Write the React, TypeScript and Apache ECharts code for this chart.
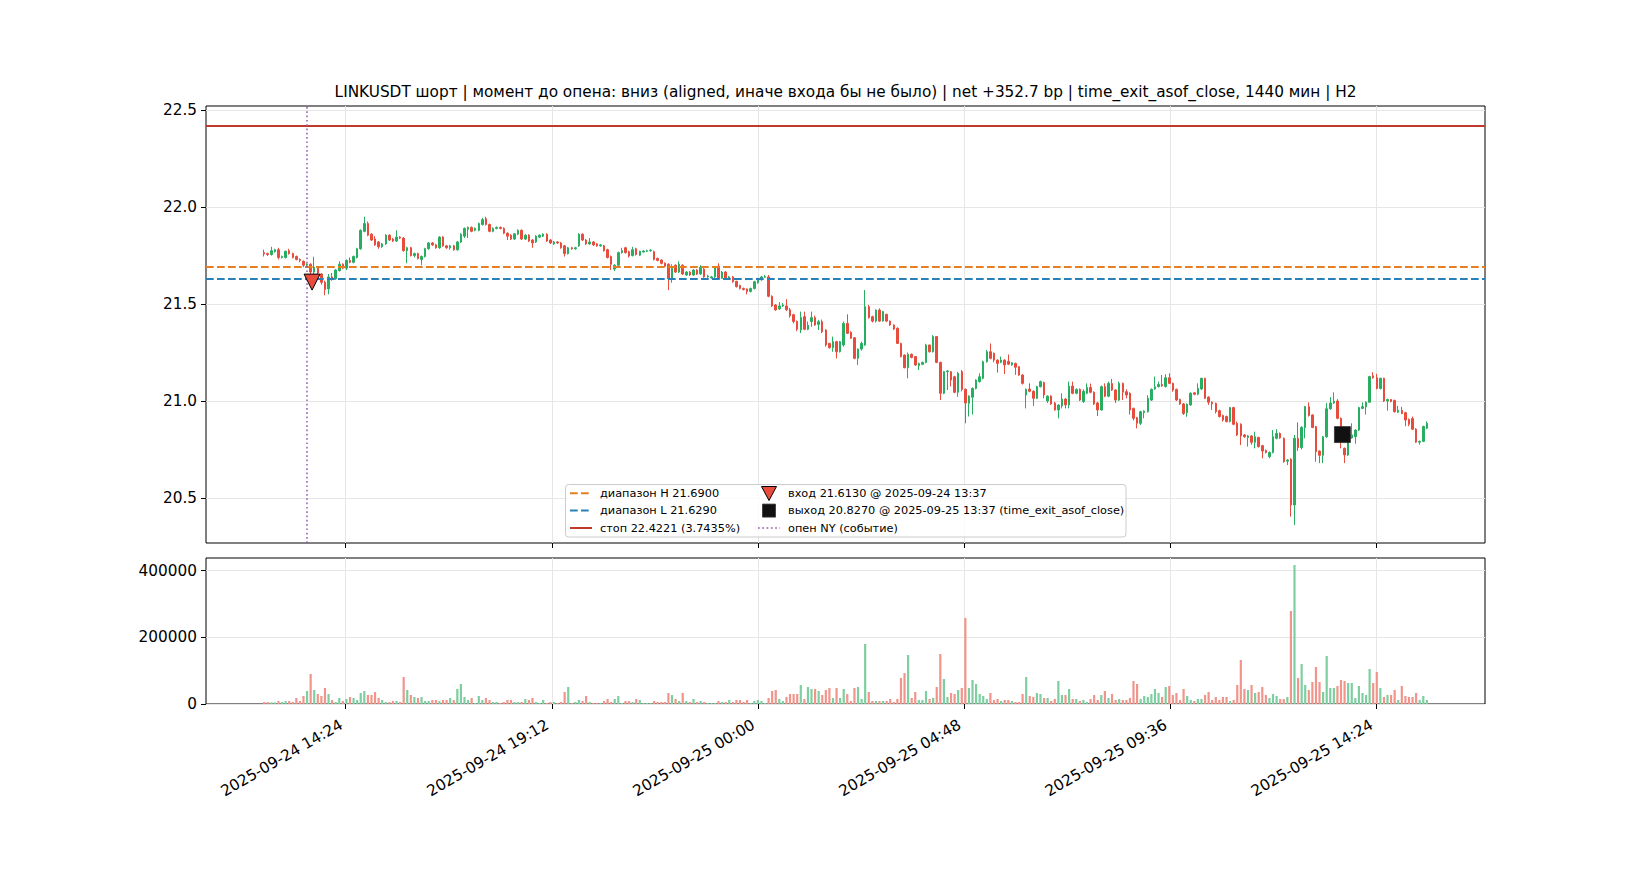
import { useEffect, useRef } from "react";
import * as echarts from "echarts";

const FONT = "DejaVu Sans";

// time axis in minutes since 2025-09-24 00:00, one candle every 5 minutes
const firstCandleMin = 750; // 2025-09-24 12:30
const candleStepMin = 5;

// [open, close, low, high]
const candles: [number, number, number, number][] = [
  [21.765, 21.758, 21.745, 21.78], [21.76, 21.755, 21.748, 21.765], [21.755, 21.775, 21.75, 21.795], [21.77, 21.78, 21.765, 21.785],
  [21.78, 21.74, 21.73, 21.79], [21.74, 21.745, 21.735, 21.75], [21.74, 21.772, 21.735, 21.775], [21.775, 21.76, 21.755, 21.785],
  [21.76, 21.74, 21.735, 21.765], [21.745, 21.73, 21.725, 21.75], [21.73, 21.725, 21.715, 21.735], [21.72, 21.7, 21.69, 21.725],
  [21.7, 21.705, 21.695, 21.71], [21.705, 21.665, 21.645, 21.71], [21.665, 21.69, 21.655, 21.744], [21.69, 21.66, 21.65, 21.695],
  [21.655, 21.612, 21.6, 21.66], [21.612, 21.575, 21.545, 21.62], [21.578, 21.64, 21.55, 21.655], [21.64, 21.63, 21.62, 21.66],
  [21.63, 21.675, 21.625, 21.68], [21.672, 21.705, 21.668, 21.72], [21.705, 21.685, 21.68, 21.71], [21.685, 21.725, 21.675, 21.73],
  [21.725, 21.715, 21.71, 21.74], [21.715, 21.745, 21.71, 21.75], [21.74, 21.785, 21.735, 21.79], [21.785, 21.88, 21.78, 21.885],
  [21.875, 21.915, 21.87, 21.95], [21.915, 21.855, 21.85, 21.925], [21.86, 21.83, 21.825, 21.865], [21.835, 21.805, 21.8, 21.85],
  [21.82, 21.795, 21.785, 21.825], [21.795, 21.81, 21.79, 21.815], [21.81, 21.855, 21.805, 21.86], [21.855, 21.83, 21.825, 21.86],
  [21.835, 21.825, 21.82, 21.84], [21.825, 21.845, 21.82, 21.88], [21.845, 21.84, 21.835, 21.85], [21.84, 21.775, 21.77, 21.845],
  [21.775, 21.79, 21.71, 21.795], [21.79, 21.75, 21.745, 21.795], [21.75, 21.76, 21.74, 21.765], [21.76, 21.735, 21.73, 21.765],
  [21.73, 21.745, 21.7, 21.75], [21.745, 21.785, 21.74, 21.79], [21.785, 21.815, 21.78, 21.82], [21.815, 21.805, 21.8, 21.82],
  [21.805, 21.79, 21.785, 21.81], [21.79, 21.845, 21.785, 21.85], [21.845, 21.8, 21.795, 21.85], [21.8, 21.79, 21.785, 21.805],
  [21.79, 21.8, 21.78, 21.805], [21.8, 21.78, 21.775, 21.805], [21.78, 21.82, 21.775, 21.825], [21.82, 21.86, 21.815, 21.865],
  [21.85, 21.89, 21.84, 21.895], [21.885, 21.895, 21.84, 21.9], [21.895, 21.875, 21.87, 21.9], [21.88, 21.89, 21.875, 21.895],
  [21.88, 21.915, 21.875, 21.92], [21.91, 21.935, 21.905, 21.945], [21.94, 21.91, 21.905, 21.95], [21.91, 21.875, 21.87, 21.915],
  [21.875, 21.89, 21.87, 21.895], [21.89, 21.895, 21.885, 21.9], [21.895, 21.89, 21.885, 21.9], [21.89, 21.865, 21.86, 21.895],
  [21.865, 21.85, 21.83, 21.87], [21.855, 21.835, 21.83, 21.86], [21.835, 21.862, 21.83, 21.865], [21.86, 21.88, 21.855, 21.885],
  [21.88, 21.835, 21.83, 21.885], [21.835, 21.855, 21.83, 21.86], [21.855, 21.825, 21.82, 21.86], [21.83, 21.815, 21.79, 21.835],
  [21.82, 21.85, 21.815, 21.855], [21.845, 21.855, 21.84, 21.86], [21.85, 21.86, 21.845, 21.865], [21.86, 21.825, 21.82, 21.865],
  [21.83, 21.815, 21.81, 21.835], [21.81, 21.82, 21.805, 21.825], [21.82, 21.815, 21.81, 21.825], [21.815, 21.79, 21.785, 21.82],
  [21.8, 21.76, 21.745, 21.805], [21.76, 21.79, 21.755, 21.795], [21.79, 21.785, 21.78, 21.795], [21.785, 21.79, 21.78, 21.795],
  [21.8, 21.86, 21.795, 21.865], [21.86, 21.83, 21.825, 21.865], [21.83, 21.81, 21.805, 21.835], [21.81, 21.82, 21.805, 21.84],
  [21.82, 21.805, 21.8, 21.825], [21.81, 21.8, 21.795, 21.815], [21.8, 21.805, 21.795, 21.81], [21.8, 21.775, 21.77, 21.805],
  [21.78, 21.74, 21.735, 21.785], [21.745, 21.705, 21.675, 21.75], [21.68, 21.7, 21.67, 21.705], [21.7, 21.765, 21.695, 21.77],
  [21.765, 21.775, 21.76, 21.79], [21.79, 21.765, 21.76, 21.795], [21.77, 21.748, 21.74, 21.775], [21.75, 21.78, 21.745, 21.795],
  [21.785, 21.755, 21.75, 21.79], [21.752, 21.772, 21.748, 21.775], [21.768, 21.773, 21.765, 21.778], [21.772, 21.775, 21.768, 21.78],
  [21.775, 21.778, 21.77, 21.782], [21.77, 21.73, 21.725, 21.775], [21.735, 21.725, 21.72, 21.74], [21.727, 21.71, 21.705, 21.73],
  [21.71, 21.695, 21.69, 21.715], [21.705, 21.63, 21.572, 21.71], [21.63, 21.685, 21.61, 21.705], [21.7, 21.665, 21.66, 21.705],
  [21.665, 21.705, 21.66, 21.72], [21.7, 21.655, 21.65, 21.705], [21.65, 21.665, 21.645, 21.67], [21.665, 21.65, 21.645, 21.67],
  [21.65, 21.675, 21.645, 21.68], [21.675, 21.655, 21.65, 21.68], [21.655, 21.69, 21.65, 21.7], [21.68, 21.64, 21.635, 21.685],
  [21.64, 21.645, 21.635, 21.65], [21.635, 21.64, 21.63, 21.645], [21.64, 21.69, 21.635, 21.695], [21.695, 21.63, 21.625, 21.71],
  [21.633, 21.665, 21.63, 21.67], [21.665, 21.63, 21.625, 21.67], [21.63, 21.64, 21.625, 21.645], [21.64, 21.615, 21.61, 21.645],
  [21.617, 21.59, 21.585, 21.62], [21.595, 21.58, 21.575, 21.6], [21.58, 21.575, 21.57, 21.585], [21.578, 21.565, 21.55, 21.58],
  [21.565, 21.58, 21.56, 21.585], [21.58, 21.615, 21.575, 21.62], [21.61, 21.632, 21.605, 21.635], [21.625, 21.64, 21.62, 21.645],
  [21.638, 21.641, 21.635, 21.65], [21.64, 21.54, 21.535, 21.65], [21.54, 21.49, 21.485, 21.545], [21.495, 21.47, 21.465, 21.5],
  [21.475, 21.49, 21.47, 21.51], [21.49, 21.495, 21.485, 21.505], [21.49, 21.47, 21.465, 21.525], [21.47, 21.44, 21.43, 21.48],
  [21.445, 21.41, 21.4, 21.45], [21.41, 21.37, 21.36, 21.415], [21.366, 21.43, 21.35, 21.461], [21.435, 21.37, 21.365, 21.461],
  [21.37, 21.39, 21.365, 21.41], [21.41, 21.43, 21.383, 21.461], [21.43, 21.392, 21.388, 21.44], [21.395, 21.409, 21.366, 21.418],
  [21.409, 21.357, 21.35, 21.42], [21.366, 21.289, 21.28, 21.37], [21.297, 21.275, 21.27, 21.3], [21.275, 21.306, 21.254, 21.332],
  [21.306, 21.254, 21.22, 21.31], [21.254, 21.306, 21.25, 21.31], [21.289, 21.4, 21.28, 21.41], [21.4, 21.349, 21.345, 21.447],
  [21.354, 21.323, 21.32, 21.36], [21.326, 21.22, 21.215, 21.33], [21.22, 21.268, 21.186, 21.27], [21.268, 21.297, 21.26, 21.306],
  [21.289, 21.486, 21.285, 21.572], [21.486, 21.43, 21.425, 21.495], [21.435, 21.412, 21.405, 21.44], [21.412, 21.469, 21.405, 21.472],
  [21.469, 21.412, 21.408, 21.478], [21.412, 21.461, 21.41, 21.465], [21.447, 21.412, 21.408, 21.45], [21.412, 21.392, 21.388, 21.415],
  [21.392, 21.371, 21.366, 21.395], [21.375, 21.297, 21.295, 21.38], [21.297, 21.229, 21.225, 21.3], [21.237, 21.172, 21.168, 21.24],
  [21.172, 21.241, 21.117, 21.25], [21.241, 21.225, 21.22, 21.245], [21.229, 21.186, 21.18, 21.232], [21.182, 21.194, 21.16, 21.198],
  [21.189, 21.199, 21.185, 21.203], [21.199, 21.289, 21.195, 21.295], [21.289, 21.254, 21.25, 21.29], [21.254, 21.332, 21.25, 21.34],
  [21.332, 21.199, 21.195, 21.335], [21.199, 21.04, 21.005, 21.203], [21.04, 21.151, 21.035, 21.155], [21.151, 21.155, 21.057, 21.16],
  [21.151, 21.108, 21.075, 21.155], [21.125, 21.045, 21.04, 21.13], [21.045, 21.143, 21.022, 21.15], [21.151, 21.06, 21.05, 21.16],
  [21.06, 20.99, 20.885, 21.065], [20.988, 21.025, 20.92, 21.03], [21.02, 21.065, 20.93, 21.07], [21.065, 21.108, 21.06, 21.112],
  [21.1, 21.125, 21.095, 21.143], [21.117, 21.203, 21.112, 21.208], [21.203, 21.254, 21.198, 21.263], [21.254, 21.22, 21.215, 21.297],
  [21.246, 21.211, 21.2, 21.25], [21.211, 21.194, 21.147, 21.215], [21.2, 21.211, 21.195, 21.229], [21.211, 21.186, 21.139, 21.215],
  [21.205, 21.19, 21.185, 21.24], [21.186, 21.197, 21.182, 21.2], [21.194, 21.174, 21.135, 21.198], [21.177, 21.134, 21.13, 21.18],
  [21.134, 21.091, 21.085, 21.138], [21.031, 21.06, 20.962, 21.065], [21.062, 21.05, 21.045, 21.091], [21.05, 21.014, 20.975, 21.055],
  [21.014, 21.074, 21.01, 21.078], [21.074, 21.1, 21.07, 21.105], [21.095, 21.031, 21.014, 21.1], [21.0, 21.025, 20.99, 21.03],
  [21.025, 20.985, 20.98, 21.03], [20.99, 20.954, 20.95, 20.995], [20.954, 20.979, 20.911, 20.983], [20.975, 21.01, 20.962, 21.04],
  [21.01, 20.98, 20.962, 21.015], [20.98, 21.077, 20.962, 21.1], [21.077, 21.04, 21.035, 21.1], [21.04, 21.06, 21.035, 21.065],
  [21.06, 21.005, 21.0, 21.065], [20.997, 21.05, 20.99, 21.06], [21.04, 21.07, 21.035, 21.091], [21.07, 21.045, 21.04, 21.09],
  [21.045, 20.985, 20.98, 21.05], [20.99, 20.954, 20.923, 20.995], [20.954, 21.074, 20.95, 21.08], [21.074, 21.025, 21.02, 21.091],
  [21.025, 21.091, 21.02, 21.1], [21.09, 21.057, 21.052, 21.114], [21.057, 21.005, 20.99, 21.06], [21.005, 21.091, 21.0, 21.1],
  [21.091, 21.045, 21.005, 21.095], [21.048, 21.031, 21.014, 21.06], [21.04, 20.954, 20.93, 21.045], [20.962, 20.911, 20.9, 20.966],
  [20.914, 20.885, 20.859, 20.918], [20.885, 20.945, 20.876, 20.95], [20.94, 20.948, 20.911, 20.952], [20.945, 21.014, 20.94, 21.03],
  [21.005, 21.06, 21.0, 21.065], [21.062, 21.074, 21.058, 21.126], [21.074, 21.085, 21.07, 21.1], [21.085, 21.078, 21.073, 21.134],
  [21.075, 21.12, 21.07, 21.138], [21.12, 21.091, 21.087, 21.143], [21.091, 21.057, 21.048, 21.095], [21.06, 21.005, 21.0, 21.064],
  [21.008, 20.985, 20.98, 21.012], [20.985, 20.936, 20.928, 20.99], [20.94, 20.983, 20.919, 20.988], [20.98, 21.04, 20.975, 21.045],
  [21.042, 21.035, 21.03, 21.045], [21.035, 21.065, 21.03, 21.091], [21.062, 21.117, 21.058, 21.12], [21.117, 21.014, 21.01, 21.12],
  [21.02, 20.994, 20.98, 21.025], [20.994, 20.985, 20.954, 20.998], [20.988, 20.945, 20.936, 20.992], [20.95, 20.92, 20.915, 20.955],
  [20.925, 20.902, 20.894, 20.93], [20.92, 20.894, 20.89, 20.925], [20.894, 20.966, 20.89, 20.97], [20.966, 20.88, 20.875, 20.97],
  [20.885, 20.825, 20.82, 20.894], [20.88, 20.82, 20.773, 20.885], [20.825, 20.816, 20.81, 20.83], [20.812, 20.82, 20.765, 20.825],
  [20.82, 20.787, 20.775, 20.824], [20.787, 20.816, 20.756, 20.842], [20.812, 20.765, 20.76, 20.816], [20.77, 20.742, 20.705, 20.774],
  [20.745, 20.735, 20.73, 20.75], [20.713, 20.735, 20.705, 20.74], [20.735, 20.816, 20.73, 20.85], [20.808, 20.833, 20.803, 20.855],
  [20.833, 20.81, 20.805, 20.838], [20.808, 20.687, 20.682, 20.812], [20.69, 20.696, 20.67, 20.7], [20.7, 20.464, 20.404, 20.705],
  [20.464, 20.808, 20.361, 20.825], [20.808, 20.76, 20.743, 20.89], [20.76, 20.864, 20.75, 20.87], [20.864, 20.971, 20.808, 20.975],
  [20.971, 20.925, 20.92, 20.993], [20.928, 20.864, 20.86, 20.932], [20.868, 20.739, 20.687, 20.872], [20.742, 20.72, 20.68, 20.746],
  [20.72, 20.816, 20.68, 20.82], [20.816, 20.96, 20.81, 20.99], [20.96, 20.99, 20.955, 21.02], [20.99, 20.999, 20.985, 21.045],
  [21.0, 20.911, 20.906, 21.01], [20.911, 20.8, 20.756, 20.915], [20.756, 20.722, 20.68, 20.76], [20.722, 20.82, 20.717, 20.83],
  [20.81, 20.825, 20.805, 20.885], [20.816, 20.85, 20.78, 20.855], [20.85, 20.966, 20.845, 20.97], [20.962, 20.971, 20.958, 20.993],
  [20.97, 20.994, 20.93, 20.998], [20.994, 21.126, 20.99, 21.13], [21.13, 21.12, 21.115, 21.148], [21.12, 21.065, 21.06, 21.14],
  [21.065, 21.117, 21.06, 21.12], [21.117, 21.0, 20.995, 21.12], [21.0, 21.008, 20.95, 21.012], [21.008, 20.998, 20.993, 21.01],
  [21.003, 20.945, 20.94, 21.007], [20.942, 20.952, 20.938, 20.975], [20.952, 20.936, 20.932, 20.97], [20.94, 20.902, 20.87, 20.944],
  [20.905, 20.88, 20.87, 20.91], [20.91, 20.855, 20.85, 20.92], [20.855, 20.788, 20.784, 20.86], [20.788, 20.792, 20.775, 20.796],
  [20.792, 20.868, 20.788, 20.873], [20.86, 20.885, 20.855, 20.895],
];

const volumes: number[] = [
  6000, 6000, 5000, 5000, 9000, 6000, 9000, 9000, 6000, 18000,
  9000, 24000, 39000, 90000, 42000, 30000, 24000, 48000, 30000, 12000,
  6000, 18000, 9000, 15000, 21000, 18000, 12000, 33000, 39000, 27000,
  27000, 36000, 18000, 12000, 6000, 6000, 9000, 9000, 6000, 81000,
  42000, 27000, 21000, 18000, 21000, 9000, 9000, 12000, 12000, 9000,
  12000, 12000, 18000, 12000, 45000, 60000, 21000, 12000, 18000, 3000,
  24000, 12000, 18000, 12000, 6000, 6000, 3000, 6000, 12000, 12000,
  6000, 6000, 6000, 15000, 12000, 18000, 6000, 3000, 12000, 3000,
  6000, 6000, 3000, 6000, 36000, 51000, 3000, 6000, 12000, 9000,
  24000, 6000, 3000, 3000, 3000, 9000, 15000, 6000, 15000, 24000,
  3000, 9000, 9000, 6000, 15000, 12000, 3000, 3000, 3000, 9000,
  6000, 6000, 6000, 33000, 27000, 15000, 9000, 33000, 9000, 6000,
  15000, 6000, 9000, 6000, 3000, 3000, 3000, 9000, 6000, 6000,
  12000, 6000, 12000, 12000, 6000, 12000, 3000, 9000, 12000, 9000,
  3000, 18000, 39000, 42000, 15000, 9000, 21000, 30000, 30000, 30000,
  57000, 15000, 51000, 45000, 45000, 39000, 27000, 42000, 48000, 18000,
  48000, 18000, 45000, 30000, 9000, 48000, 51000, 15000, 180000, 36000,
  9000, 9000, 9000, 9000, 9000, 15000, 6000, 15000, 78000, 93000,
  147000, 18000, 36000, 12000, 12000, 39000, 15000, 18000, 51000, 150000,
  75000, 21000, 33000, 30000, 42000, 48000, 258000, 48000, 72000, 60000,
  30000, 24000, 15000, 33000, 12000, 15000, 9000, 12000, 12000, 9000,
  6000, 6000, 30000, 81000, 24000, 21000, 33000, 30000, 18000, 18000,
  9000, 15000, 69000, 27000, 27000, 45000, 15000, 15000, 9000, 12000,
  6000, 15000, 27000, 12000, 27000, 39000, 18000, 30000, 12000, 15000,
  12000, 12000, 18000, 69000, 60000, 15000, 24000, 21000, 30000, 45000,
  33000, 21000, 51000, 54000, 27000, 33000, 12000, 45000, 24000, 12000,
  9000, 15000, 15000, 27000, 36000, 12000, 21000, 12000, 21000, 21000,
  9000, 12000, 57000, 132000, 45000, 42000, 57000, 33000, 36000, 51000,
  27000, 18000, 30000, 24000, 15000, 15000, 21000, 279000, 417000, 78000,
  120000, 57000, 42000, 66000, 111000, 66000, 36000, 144000, 48000, 48000,
  54000, 72000, 69000, 63000, 63000, 18000, 54000, 33000, 27000, 105000,
  63000, 96000, 48000, 21000, 27000, 27000, 42000, 12000, 54000, 24000,
  21000, 21000, 33000, 12000, 24000, 12000,
];

const rangeHigh = 21.69;
const rangeLow = 21.629;
const stopPrice = 22.4221;
const nyOpenMin = 810; // 2025-09-24 13:30
const entryPoint = [817, 21.613]; // 2025-09-24 13:37
const exitPoint = [2257, 20.827]; // 2025-09-25 13:37

const timeTicks = [864, 1152, 1440, 1728, 2016, 2304];
const priceTicks = [20.5, 21.0, 21.5, 22.0, 22.5];
const volumeTicks = [0, 200000, 400000];

const TITLE =
  "LINKUSDT шорт | момент до опена: вниз (aligned, иначе входа бы не было) | net +352.7 bp | time_exit_asof_close, 1440 мин | H2";

const UP = "#27ae60";
const DOWN = "#e74c3c";
const UP_VOL = "#7dcea0";
const DOWN_VOL = "#f1948a";
const GRID_LINE = "#e6e6e6";
const FS = 15.3;
const LEGEND_FS = 11.3;

function fmtTime(v: number) {
  const day = 24 + Math.floor(v / 1440);
  const m = Math.round(v - Math.floor(v / 1440) * 1440);
  const hh = String(Math.floor(m / 60)).padStart(2, "0");
  const mm = String(m % 60).padStart(2, "0");
  return `2025-09-${day} ${hh}:${mm}`;
}

export default function App() {
  const chartRef = useRef<HTMLDivElement>(null);

  useEffect(() => {
    if (!chartRef.current) return;
    const chart = echarts.init(chartRef.current, null, { renderer: "svg" });

    const candleData = candles.map((c, i) => [firstCandleMin + i * candleStepMin, ...c]);
    const volumeData = volumes.map((v, i) => ({
      value: [firstCandleMin + i * candleStepMin, v],
      itemStyle: { color: candles[i][1] >= candles[i][0] ? UP_VOL : DOWN_VOL },
    }));

    const xMin = 668.75;
    const xMax = 2456.25;
    const tickStyle = { lineStyle: { color: "#000", width: 1 }, length: 5, inside: false };
    const labelStyle = { color: "#000", fontFamily: FONT, fontSize: FS };
    const split = { show: true, lineStyle: { color: GRID_LINE, width: 1 } };

    const legendText = (x: number, y: number, text: string) => ({
      type: "text",
      x,
      y,
      z: 100,
      style: {
        text,
        fill: "#000",
        fontFamily: FONT,
        fontSize: LEGEND_FS,
        align: "left",
        verticalAlign: "middle",
        textAlign: "left",
        textVerticalAlign: "middle",
      },
    });
    const legendLine = (y: number, x1: number, color: string, dash: number[] | null, width: number) => ({
      type: "line",
      z: 100,
      shape: { x1, y1: y, x2: x1 + 22, y2: y },
      style: { stroke: color, lineWidth: width, lineDash: dash ?? undefined },
    });

    const option = {
      animation: false,
      backgroundColor: "#fff",
      textStyle: { fontFamily: FONT },
      grid: [
        { left: 206, right: 165, top: 106, height: 437, show: true, borderColor: "#000", borderWidth: 1, backgroundColor: "transparent" },
        { left: 206, right: 165, top: 558, height: 146, show: true, borderColor: "#000", borderWidth: 1, backgroundColor: "transparent" },
      ],
      xAxis: [
        {
          type: "value",
          gridIndex: 0,
          min: xMin,
          max: xMax,
          axisLine: { show: false },
          axisTick: { ...tickStyle, customValues: timeTicks },
          axisLabel: { show: false, customValues: timeTicks },
          splitLine: split,
        },
        {
          type: "value",
          gridIndex: 1,
          min: xMin,
          max: xMax,
          axisLine: { show: false },
          axisTick: { ...tickStyle, customValues: timeTicks },
          axisLabel: {
            ...labelStyle,
            customValues: timeTicks,
            rotate: 30,
            margin: 17,
            padding: [0, 5, 0, 0],
            formatter: (v: number) => fmtTime(v),
          },
          splitLine: split,
        },
      ],
      yAxis: [
        {
          type: "value",
          gridIndex: 0,
          min: 20.268,
          max: 22.521,
          axisLine: { show: false },
          axisTick: { ...tickStyle, customValues: priceTicks },
          axisLabel: { ...labelStyle, customValues: priceTicks, margin: 9, formatter: (v: number) => v.toFixed(1) },
          splitLine: split,
        },
        {
          type: "value",
          gridIndex: 1,
          min: 0,
          max: 437850,
          axisLine: { show: false },
          axisTick: { ...tickStyle, customValues: volumeTicks },
          axisLabel: { ...labelStyle, customValues: volumeTicks, margin: 9, formatter: (v: number) => String(v) },
          splitLine: split,
        },
      ],
      series: [
        {
          type: "candlestick",
          xAxisIndex: 0,
          yAxisIndex: 0,
          data: candleData,
          encode: { x: 0, y: [1, 2, 3, 4] },
          barWidth: 2,
          itemStyle: { color: UP, color0: DOWN, borderColor: UP, borderColor0: DOWN, borderWidth: 1 },
          markLine: {
            silent: true,
            symbol: ["none", "none"],
            label: { show: false },
            z: 4,
            data: [
              { yAxis: rangeHigh, lineStyle: { color: "#e67e22", width: 2, type: [7.7, 3.3] } },
              { yAxis: rangeLow, lineStyle: { color: "#2980b9", width: 2, type: [7.7, 3.3] } },
              { yAxis: stopPrice, lineStyle: { color: "#c0392b", width: 2, type: "solid" } },
              { xAxis: nyOpenMin, lineStyle: { color: "#9b59b6", width: 1.5, type: [1.7, 2.6] } },
            ],
          },
        },
        {
          type: "scatter",
          xAxisIndex: 0,
          yAxisIndex: 0,
          z: 6,
          symbol: "triangle",
          symbolRotate: 180,
          symbolSize: [16, 16],
          itemStyle: { color: DOWN, borderColor: "#000", borderWidth: 1, opacity: 1 },
          data: [entryPoint],
        },
        {
          type: "scatter",
          xAxisIndex: 0,
          yAxisIndex: 0,
          z: 6,
          symbol: "rect",
          symbolSize: [16, 16],
          itemStyle: { color: "#111", borderColor: "#333", borderWidth: 0.8, opacity: 1 },
          data: [exitPoint],
        },
        {
          type: "bar",
          xAxisIndex: 1,
          yAxisIndex: 1,
          barWidth: 2.2,
          data: volumeData,
        },
      ],
      graphic: [
        {
          type: "text",
          x: 845.5,
          y: 92,
          style: {
            text: TITLE,
            fill: "#000",
            fontFamily: FONT,
            fontSize: FS,
            align: "center",
            verticalAlign: "middle",
            textAlign: "center",
            textVerticalAlign: "middle",
          },
        },
        {
          type: "rect",
          z: 99,
          shape: { x: 565.5, y: 484.5, width: 560.5, height: 52.5, r: 3 },
          style: { fill: "rgba(255,255,255,0.8)", stroke: "#cccccc", lineWidth: 1 },
        },
        legendLine(493.2, 570, "#e67e22", [7.7, 3.3], 2),
        legendLine(510.6, 570, "#2980b9", [7.7, 3.3], 2),
        legendLine(528, 570, "#c0392b", null, 2),
        legendText(600, 493.2, "диапазон H 21.6900"),
        legendText(600, 510.6, "диапазон L 21.6290"),
        legendText(600, 528, "стоп 22.4221 (3.7435%)"),
        {
          type: "polygon",
          z: 100,
          shape: { points: [[761.5, 486.5], [776.5, 486.5], [769, 500.5]] },
          style: { fill: DOWN, stroke: "#000", lineWidth: 1 },
        },
        {
          type: "rect",
          z: 100,
          shape: { x: 762.5, y: 504.1, width: 13, height: 13 },
          style: { fill: "#111", stroke: "#333", lineWidth: 0.8 },
        },
        legendLine(528, 758, "#9b59b6", [1.7, 2.6], 1.5),
        legendText(788, 493.2, "вход 21.6130 @ 2025-09-24 13:37"),
        legendText(788, 510.6, "выход 20.8270 @ 2025-09-25 13:37 (time_exit_asof_close)"),
        legendText(788, 528, "опен NY (событие)"),
      ],
    };

    chart.setOption(option as any);

    return () => {
      chart.dispose();
    };
  }, []);

  return (
    <div
      ref={chartRef}
      style={{ position: "fixed", left: 0, top: 0, width: "1650px", height: "880px", background: "#fff" }}
    />
  );
}
